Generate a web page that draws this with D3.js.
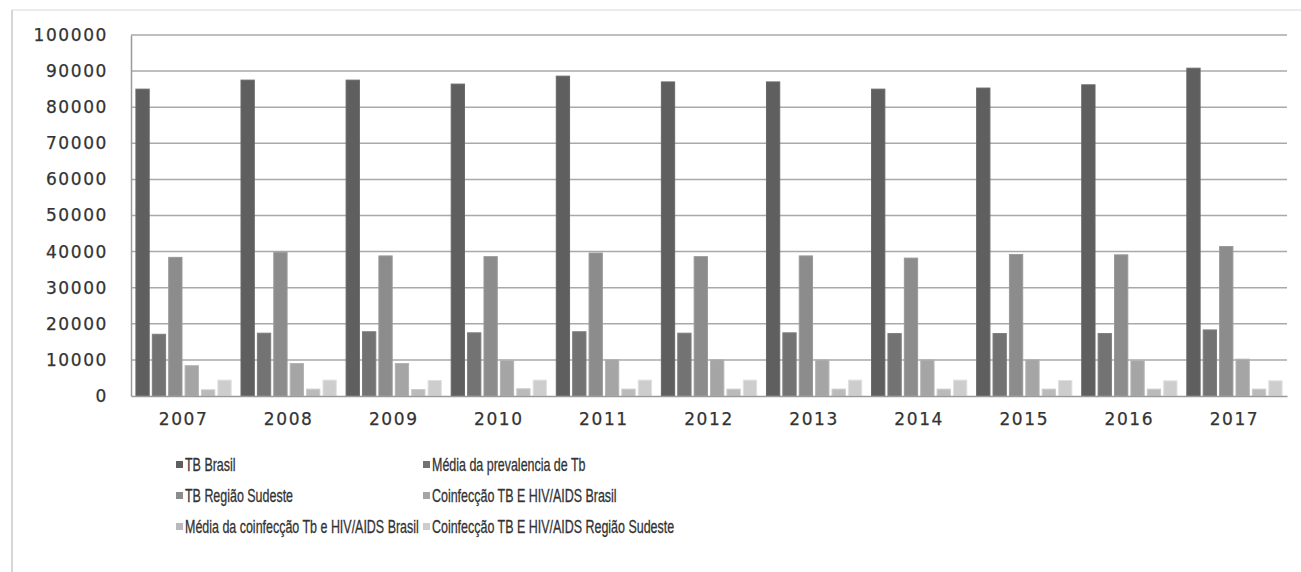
<!DOCTYPE html>
<html>
<head>
<meta charset="utf-8">
<script src="https://cdn.jsdelivr.net/npm/d3@7"></script>
<style>
  html, body { margin: 0; padding: 0; background: #fff; }
  svg { display: block; }
</style>
</head>
<body>
<svg id="chart" width="1301" height="572"></svg>
<script>
// ---- data ----
const years = ["2007","2008","2009","2010","2011","2012","2013","2014","2015","2016","2017"];
const seriesNames = [
  "TB Brasil",
  "Média da prevalencia de Tb",
  "TB Região Sudeste",
  "Coinfecção TB E HIV/AIDS Brasil",
  "Média da coinfecção Tb e HIV/AIDS Brasil",
  "Coinfecção TB E HIV/AIDS Região Sudeste"
];
const tbBrasil      = [85000, 87500, 87500, 86400, 88600, 87000, 87000, 85000, 85300, 86200, 90800];
const mediaPrevTb   = [17100, 17400, 17800, 17500, 17800, 17400, 17500, 17300, 17300, 17300, 18300];
const tbSudeste     = [38400, 39800, 38800, 38600, 39600, 38600, 38800, 38200, 39200, 39100, 41400];
const coinfBrasil   = [8400, 9000, 9000, 9900, 10100, 10100, 10000, 10000, 10100, 9800, 10200];
const mediaCoinf    = [1700, 1900, 1800, 2000, 1900, 1900, 1900, 1900, 1900, 1900, 1900];
const coinfSudeste  = [4400, 4400, 4300, 4400, 4400, 4400, 4400, 4400, 4300, 4200, 4200];
const yTicks = [0, 10000, 20000, 30000, 40000, 50000, 60000, 70000, 80000, 90000, 100000];

const seriesValues = [tbBrasil, mediaPrevTb, tbSudeste, coinfBrasil, mediaCoinf, coinfSudeste];

// ---- style / layout ----
const colors = ["#5f5f5f", "#737373", "#8c8c8c", "#a5a5a5", "#bababa", "#cdcdcd"];
const plot = { left: 131, right: 1287, top: 35, bottom: 396 };

const svg = d3.select("#chart");

// outer frame (left and top edges visible)
svg.append("line").attr("x1", 12).attr("x2", 12).attr("y1", 10).attr("y2", 572)
  .attr("stroke", "#c8c8c8").attr("stroke-width", 1.5);
svg.append("line").attr("x1", 12).attr("x2", 1301).attr("y1", 10).attr("y2", 10)
  .attr("stroke", "#d8d8d8").attr("stroke-width", 1);

const x0 = d3.scaleBand().domain(years).range([plot.left, plot.right]).padding(0);
const x1 = d3.scaleBand().domain(d3.range(seriesNames.length))
  .range([0, x0.bandwidth()]).paddingInner(0.19).paddingOuter(0.3);
const y = d3.scaleLinear().domain([0, 100000]).range([plot.bottom, plot.top]);

// gridlines
svg.append("g").selectAll("line").data(yTicks.filter(d => d > 0)).join("line")
  .attr("x1", plot.left).attr("x2", plot.right)
  .attr("y1", d => y(d)).attr("y2", d => y(d))
  .attr("stroke", "#a9a9a9").attr("stroke-width", 1.5);

const axisFont = sel => sel
  .attr("font-family", "DejaVu Sans, sans-serif")
  .attr("font-size", 17)
  .attr("letter-spacing", "1.6px")
  .attr("fill", "#333")
  .attr("stroke", "#333").attr("stroke-width", 0.25);

// y axis
const yAxis = d3.axisLeft(y).tickValues(yTicks).tickSize(0).tickPadding(23).tickFormat(d3.format("d"));
const gy = svg.append("g").attr("transform", `translate(${plot.left},0)`).call(yAxis);
gy.select(".domain").attr("stroke", "#9a9a9a").attr("stroke-width", 1.5);
gy.selectAll("text").call(axisFont);

// bars
const groups = svg.append("g").selectAll("g").data(years).join("g")
  .attr("transform", d => `translate(${x0(d)},0)`);
groups.selectAll("rect")
  .data((yr, i) => seriesValues.map((vals, s) => ({ s, v: vals[i] })))
  .join("rect")
  .attr("x", d => x1(d.s))
  .attr("width", x1.bandwidth())
  .attr("y", d => y(d.v))
  .attr("height", d => y(0) - y(d.v))
  .attr("fill", d => colors[d.s])
  .attr("stroke", d => d3.color(colors[d.s]).brighter(0.25))
  .attr("stroke-width", 1);

// x axis
const xAxis = d3.axisBottom(x0).tickSize(0).tickPadding(17);
const gx = svg.append("g").attr("transform", `translate(0,${plot.bottom})`).call(xAxis);
gx.select(".domain").attr("stroke", "#9a9a9a").attr("stroke-width", 1.5);
gx.selectAll("text").call(axisFont);

// legend (condensed look: text compressed horizontally)
const legCols = [176, 423];
const legRows = [465, 496, 527];
const textStart = 9;
const leg = svg.append("g").selectAll("g").data(seriesNames).join("g")
  .attr("transform", (d, i) => `translate(${legCols[i % 2]},${legRows[Math.floor(i / 2)]})`);
leg.append("rect").attr("x", 0).attr("y", -4).attr("width", 7).attr("height", 7)
  .attr("fill", (d, i) => colors[i]);
const legText = leg.append("g").attr("class", "lt");
legText.append("text").attr("x", 0).attr("y", 0).attr("dy", "0.35em")
  .attr("font-family", "Liberation Sans, Arial, sans-serif")
  .attr("font-size", 18)
  .attr("fill", "#333")
  .attr("stroke", "#333").attr("stroke-width", 0.3)
  .text(d => d);
// compress horizontally so the longest label spans like the reference's narrow font
const longest = legText.select("text").nodes()[4].getComputedTextLength();
const sx = 234 / longest;
legText.attr("transform", `translate(${textStart},0) scale(${sx},1)`);
</script>
</body>
</html>
